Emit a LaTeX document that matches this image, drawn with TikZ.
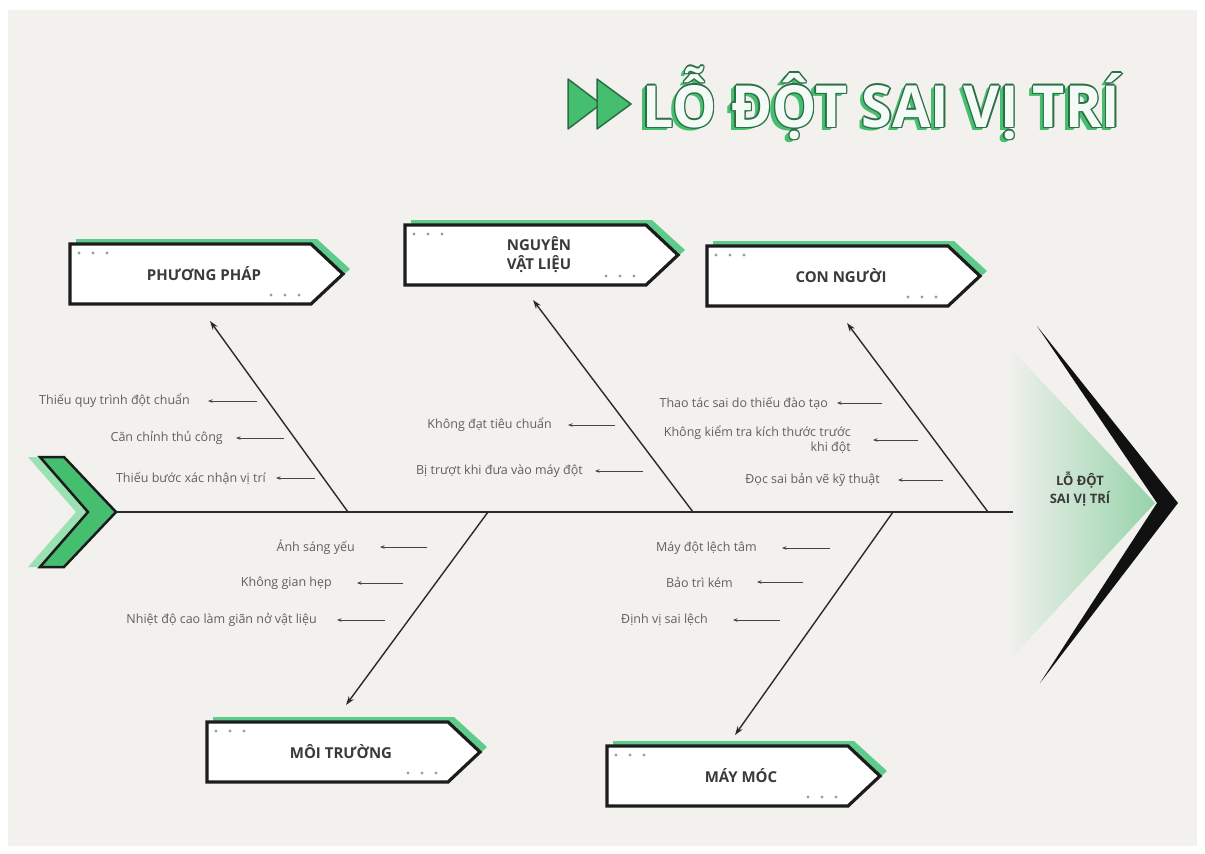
\documentclass[tikz,border=0pt]{standalone}
\usepackage{fontspec}
\setmainfont{Open Sans}
\usetikzlibrary{arrows.meta}
\definecolor{bgc}{HTML}{F3F1EE}
\definecolor{boxline}{HTML}{1C1C1C}
\definecolor{shadowgreen}{HTML}{5FCB8B}
\definecolor{dotc}{HTML}{8AA897}
\definecolor{boxtxt}{HTML}{3A3A3A}
\definecolor{subtxt}{HTML}{606060}
\definecolor{subc}{HTML}{444444}
\definecolor{bonec}{HTML}{2A2A2A}
\definecolor{titlegreen}{HTML}{45BE70}
\definecolor{titledark}{HTML}{2C6E45}
\definecolor{titlefill}{HTML}{F4FBF6}
\definecolor{headgreen}{HTML}{95D3AA}
\definecolor{headblack}{HTML}{111111}
\definecolor{taillight}{HTML}{9BE2B3}
\definecolor{tailgreen}{HTML}{45BE70}
\newcommand\subfont{\fontsize{12.5}{15}\selectfont}
\newcommand\boxfont{\fontsize{15}{19}\selectfont\bfseries}
\newcommand\titletext{\fontsize{58}{60}\selectfont\bfseries\scalebox{0.96}[1]{LỖ ĐỘT SAI VỊ TRÍ}}
\tikzset{
  bone/.style={line width=1.4pt, draw=bonec, -{Stealth[length=9pt,width=6pt]}},
  subarrow/.style={line width=0.8pt, draw=subc, -{Stealth[length=4.5pt,width=3.5pt]}},
  subtext/.style={font=\subfont, text=subtxt, inner sep=0pt, anchor=east, align=right},
  boxlabel/.style={font=\boxfont, text=boxtxt, align=center, inner sep=0pt},
  headlabel/.style={font=\fontsize{13}{18}\selectfont\bfseries, text=boxtxt, align=center, inner sep=0pt},
  spine/.style={line width=1.6pt, draw=bonec},
  titlelayer/.style={anchor=base west, inner sep=0pt},
}
\newcommand\causebox[4]{%
  \begin{scope}[shift={(#2,#3)}]
    \fill[shadowgreen] (6,-5) -- (247,-5) -- (280,25) -- (247,55) -- (6,55) -- cycle;
    \draw[line width=3.2pt, draw=boxline, fill=white, line join=miter] (0,0) -- (241,0) -- (273,30) -- (241,60) -- (0,60) -- cycle;
    \foreach \dx in {9,23,37} \fill[dotc] (\dx,9) circle (1.6pt);
    \foreach \dx in {201,215,229} \fill[dotc] (\dx,51) circle (1.6pt);
    \node[boxlabel] (#1) at (134,30) {#4};
  \end{scope}}
\newcommand\subcause[6]{%
  \node[subtext] (#1) at (#3,#4) {#2};
  \coordinate (#1-a) at (#5,#4);
  \coordinate (#1-b) at (#6,#4);
  \draw[subarrow] (#1-a) -- (#1-b);}
\begin{document}
\begin{tikzpicture}[x=1pt,y=-1pt]
\useasboundingbox (0,0) rectangle (1205,854);
\fill[white] (0,0) rectangle (1205,854);
\fill[bgc] (8,10) rectangle (1197,846);

% title icon
\filldraw[fill=titlegreen, draw=titledark, line width=1.5pt, line join=round] (568,79) -- (601,104) -- (568,129) -- cycle;
\filldraw[fill=titlegreen, draw=titledark, line width=1.5pt, line join=round] (597,79) -- (631,104) -- (597,129) -- cycle;
% title: green shadow, dark outline, pale fill
\foreach \dx/\dy [count=\i] in {-4.5/3, -3.5/2, -2.5/1}
  \node[titlelayer, text=titlegreen] (tsh\i) at (642+\dx,127+\dy) {\titletext};
\foreach \dx/\dy [count=\i] in {1.4/0, -1.4/0, 0/1.4, 0/-1.4, 1/1, 1/-1, -1/1, -1/-1}
  \node[titlelayer, text=titledark] (tol\i) at (642+\dx,127+\dy) {\titletext};
\node[titlelayer, text=titlefill] (title) at (642,127) {\titletext};

% head
\shade[left color=bgc, right color=headgreen] (1005,342) -- (1155,503) -- (1005,665) -- cycle;
\fill[headblack] (1037,326) -- (1178,503) -- (1040,683) -- (1157,503) -- cycle;
\node[headlabel] (effect) at (1080,489) {LỖ ĐỘT\\SAI VỊ TRÍ};

% tail
\fill[taillight] (28,457) -- (52,457) -- (100,512) -- (52,567) -- (28,567) -- (76,512) -- cycle;
\filldraw[fill=tailgreen, draw=boxline, line width=2.5pt] (40,457) -- (64,457) -- (116,512) -- (64,567) -- (40,567) -- (88,512) -- cycle;
\coordinate (tail) at (117,512);
\coordinate (headend) at (1013,512);
\draw[spine] (tail) -- (headend);

% boxes
\causebox{pp}{70}{244}{PHƯƠNG PHÁP}
\causebox{nvl}{405}{225}{NGUYÊN\\VẬT LIỆU}
\causebox{cn}{707}{246}{CON NGƯỜI}
\causebox{mt}{207}{722}{MÔI TRƯỜNG}
\causebox{mm}{607}{746}{MÁY MÓC}

% bones
\coordinate (pp-base) at (348,512); \coordinate (pp-tip) at (210,321);
\coordinate (nvl-base) at (693,512); \coordinate (nvl-tip) at (533,300);
\coordinate (cn-base) at (988,512); \coordinate (cn-tip) at (847,323);
\coordinate (mt-base) at (488,512); \coordinate (mt-tip) at (346,705);
\coordinate (mm-base) at (893,512); \coordinate (mm-tip) at (735,735);
\draw[bone] (pp-base) -- (pp-tip);
\draw[bone] (nvl-base) -- (nvl-tip);
\draw[bone] (cn-base) -- (cn-tip);
\draw[bone] (mt-base) -- (mt-tip);
\draw[bone] (mm-base) -- (mm-tip);

% sub causes
\subcause{p1}{Thiếu quy trình đột chuẩn}{190}{401}{257}{208}
\subcause{p2}{Căn chỉnh thủ công}{223}{438}{284}{236}
\subcause{p3}{Thiếu bước xác nhận vị trí}{266}{478}{315}{276}
\subcause{v1}{Không đạt tiêu chuẩn}{552}{425}{615}{568}
\subcause{v2}{Bị trượt khi đưa vào máy đột}{583}{471}{643}{595}
\subcause{c1}{Thao tác sai do thiếu đào tạo}{828}{403}{882}{837}
\subcause{c2}{Không kiểm tra kích thước trước\\khi đột}{851}{440}{918}{873}
\subcause{c3}{Đọc sai bản vẽ kỹ thuật}{880}{480}{943}{898}
\subcause{m1}{Ánh sáng yếu}{355}{547}{427}{380}
\subcause{m2}{Không gian hẹp}{332}{583}{403}{357}
\subcause{m3}{Nhiệt độ cao làm giãn nở vật liệu}{317}{620}{385}{337}
\subcause{k1}{Máy đột lệch tâm}{757}{548}{830}{782}
\subcause{k2}{Bảo trì kém}{733}{582}{803}{757}
\subcause{k3}{Định vị sai lệch}{708}{620}{780}{733}
\end{tikzpicture}
\end{document}
